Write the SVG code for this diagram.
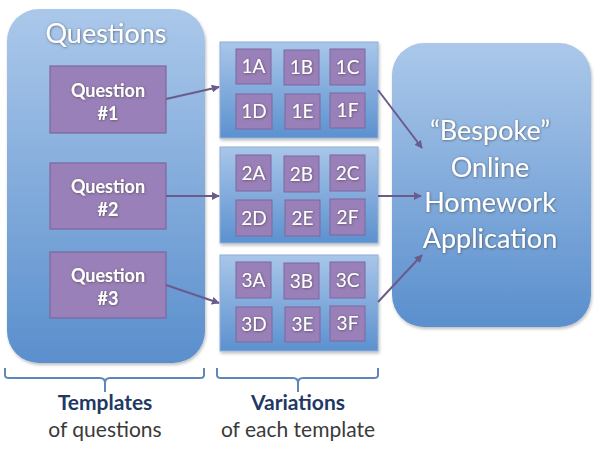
<svg xmlns="http://www.w3.org/2000/svg" width="600" height="450" viewBox="0 0 600 450">
<defs>
<linearGradient id="gBig" x1="0" y1="0" x2="0" y2="1">
<stop offset="0" stop-color="#abc8ea"/>
<stop offset="1" stop-color="#5a8fcd"/>
</linearGradient>
<linearGradient id="gPanel" x1="0" y1="0" x2="0" y2="1">
<stop offset="0" stop-color="#a9c6e9"/>
<stop offset="1" stop-color="#5c91cf"/>
</linearGradient>
<filter id="sh" x="-10%" y="-10%" width="125%" height="125%">
<feDropShadow dx="1" dy="2" stdDeviation="1.5" flood-color="#000" flood-opacity="0.25"/>
</filter>
<filter id="tsh" x="-10%" y="-20%" width="120%" height="150%">
<feDropShadow dx="0.5" dy="0.5" stdDeviation="0.8" flood-color="#333" flood-opacity="0.7"/>
</filter>
<marker id="ah" viewBox="0 0 10 10" refX="9" refY="5" markerWidth="4" markerHeight="4" orient="auto">
<path d="M0,0 L10,5 L0,10 Z" fill="#6b5a8c"/>
</marker>
</defs>
<style>
.big{fill:url(#gBig);filter:url(#sh)}
.panel{fill:url(#gPanel);stroke:#8fb0d8;stroke-width:1;filter:url(#sh)}
.q{fill:#9a80b8;stroke:#7d679f;stroke-width:1.2}
.s{fill:#9a80b8;stroke:#7d679f;stroke-width:1}
.wt{fill:#fff;font-family:Lato,"Open Sans",sans-serif;text-anchor:middle;filter:url(#tsh)}
.qt{font-size:18px;font-weight:bold}
.st{font-size:19px}
.title{font-size:27px}
.app{font-size:27px}
.conn{stroke:#6b5a8c;stroke-width:2;fill:none;marker-end:url(#ah)}
.brace{stroke:#5f86b8;stroke-width:2;fill:none}
.bt{font-family:Lato,"Open Sans",sans-serif;text-anchor:middle;font-size:21px}
</style>
<g id="questions">
<rect class="big" x="7" y="9" width="198" height="354" rx="32"/>
<text class="wt title" x="106" y="43">Questions</text>
</g>
<g id="question1">
<rect class="q" x="50" y="66" width="116" height="67"/>
<text class="wt qt" x="108" y="97">Question</text>
<text class="wt qt" x="108" y="120">#1</text>
</g>
<g id="question2">
<rect class="q" x="50" y="163" width="116" height="66"/>
<text class="wt qt" x="108" y="193">Question</text>
<text class="wt qt" x="108" y="216">#2</text>
</g>
<g id="question3">
<rect class="q" x="50" y="252" width="116" height="66"/>
<text class="wt qt" x="108" y="282">Question</text>
<text class="wt qt" x="108" y="305">#3</text>
</g>
<g id="variations1">
<rect class="panel" x="220" y="42" width="158" height="96"/>
<rect class="s" x="236" y="49" width="35" height="35"/><text class="wt st" x="253.5" y="73">1A</text>
<rect class="s" x="284" y="50" width="35" height="35"/><text class="wt st" x="301.5" y="74">1B</text>
<rect class="s" x="330" y="49" width="35" height="36"/><text class="wt st" x="347.5" y="74">1C</text>
<rect class="s" x="236" y="94" width="36" height="35"/><text class="wt st" x="254" y="118">1D</text>
<rect class="s" x="285" y="94" width="35" height="35"/><text class="wt st" x="302.5" y="118">1E</text>
<rect class="s" x="330" y="93" width="35" height="35"/><text class="wt st" x="347.5" y="117">1F</text>
</g>
<g id="variations2">
<rect class="panel" x="220" y="147" width="158" height="96"/>
<rect class="s" x="236" y="155" width="35" height="36"/><text class="wt st" x="253.5" y="180">2A</text>
<rect class="s" x="284" y="156" width="35" height="36"/><text class="wt st" x="301.5" y="181">2B</text>
<rect class="s" x="330" y="155" width="35" height="36"/><text class="wt st" x="347.5" y="180">2C</text>
<rect class="s" x="236" y="200" width="36" height="36"/><text class="wt st" x="254" y="225">2D</text>
<rect class="s" x="285" y="200" width="35" height="36"/><text class="wt st" x="302.5" y="225">2E</text>
<rect class="s" x="330" y="199" width="35" height="36"/><text class="wt st" x="347.5" y="224">2F</text>
</g>
<g id="variations3">
<rect class="panel" x="220" y="255" width="158" height="96"/>
<rect class="s" x="236" y="262" width="35" height="36"/><text class="wt st" x="253.5" y="287">3A</text>
<rect class="s" x="284" y="263" width="35" height="36"/><text class="wt st" x="301.5" y="288">3B</text>
<rect class="s" x="330" y="262" width="35" height="36"/><text class="wt st" x="347.5" y="287">3C</text>
<rect class="s" x="236" y="307" width="36" height="35"/><text class="wt st" x="254" y="331">3D</text>
<rect class="s" x="285" y="307" width="35" height="35"/><text class="wt st" x="302.5" y="331">3E</text>
<rect class="s" x="330" y="306" width="35" height="35"/><text class="wt st" x="347.5" y="330">3F</text>
</g>
<g id="app">
<rect class="big" x="392" y="43" width="199" height="284" rx="32"/>
<text class="wt app" x="490" y="140">“Bespoke”</text>
<text class="wt app" x="490" y="177">Online</text>
<text class="wt app" x="490" y="212">Homework</text>
<text class="wt app" x="490" y="248">Application</text>
</g>
<g id="connectors">
<line class="conn" x1="166" y1="99" x2="219" y2="87"/>
<line class="conn" x1="166" y1="196" x2="219" y2="196"/>
<line class="conn" x1="166" y1="285" x2="219" y2="303"/>
<line class="conn" x1="378" y1="90" x2="422" y2="148"/>
<line class="conn" x1="378" y1="196" x2="421" y2="196"/>
<line class="conn" x1="378" y1="302" x2="422" y2="255"/>
</g>
<g id="templatesLabel">
<path class="brace" d="M5,368 V375 Q5,378 9,378 H100 Q105,378 105,383 V392 M105,383 Q105,378 110,378 H200 Q204,378 204,375 V368"/>
<text class="bt" x="105" y="410" font-weight="bold" fill="#1f3864">Templates</text>
<text class="bt" x="105" y="437" fill="#3a3a3a">of questions</text>
</g>
<g id="variationsLabel">
<path class="brace" d="M217,368 V375 Q217,378 221,378 H293 Q298,378 298,383 V392 M298,383 Q298,378 303,378 H374 Q378,378 378,375 V368"/>
<text class="bt" x="298" y="410" font-weight="bold" fill="#1f3864">Variations</text>
<text class="bt" x="298" y="437" fill="#3a3a3a">of each template</text>
</g>
</svg>
